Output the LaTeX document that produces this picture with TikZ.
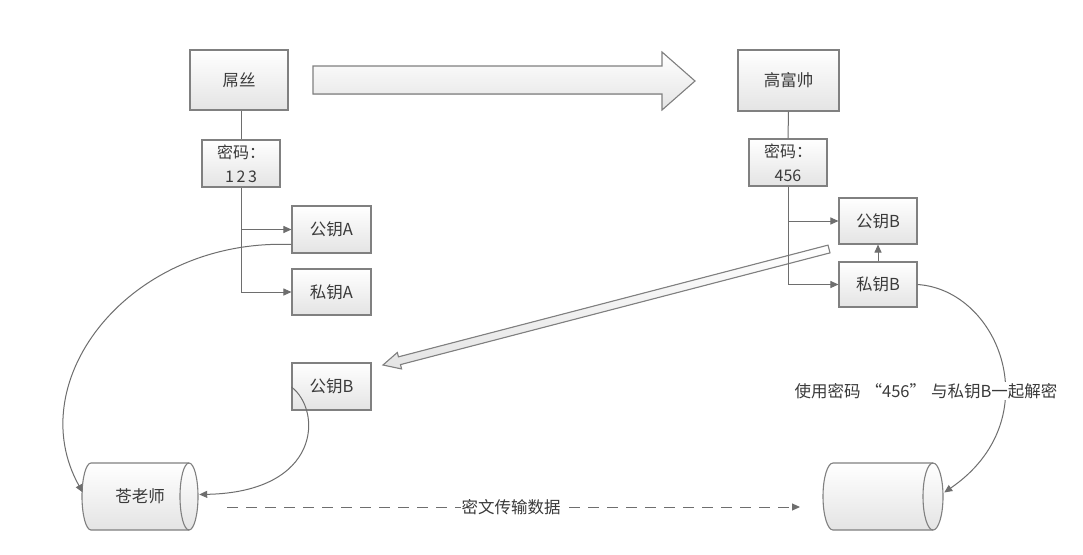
\documentclass[tikz,border=0pt]{standalone}
\usepackage{fontspec}
\setmainfont{Noto Sans CJK SC}
\usetikzlibrary{arrows.meta,shapes.geometric,calc}
\definecolor{edge}{HTML}{808080}
\definecolor{txt}{HTML}{3A3A3A}
\definecolor{fillbot}{HTML}{E4E4E4}
\definecolor{linec}{HTML}{6E6E6E}
\begin{document}
\begin{tikzpicture}[x=1pt,y=-1pt,
  every node/.style={text=txt,font=\fontsize{16.5pt}{20pt}\selectfont},
  box/.style={draw=edge,line width=1.1pt,top color=white,bottom color=fillbot,inner sep=0pt},
  pwbox/.style={box,align=center,font=\fontsize{16pt}{24pt}\selectfont},
  cylbody/.style={draw=edge,line width=1.1pt,top color=white,bottom color=fillbot},
  conn/.style={draw=linec,line width=1pt,-{Triangle[length=8pt,width=7pt]}},
  plain/.style={draw=linec,line width=1pt},
  fat/.style={draw=edge,line width=1.1pt,top color=white,bottom color=fillbot},
  lbl/.style={fill=white,inner sep=1pt}]
\useasboundingbox[fill=white] (0,0) rectangle (1083,554);

% top boxes
\node[box,minimum width=98pt,minimum height=60pt] (ds) at (239,80) {屌丝};
\node[box,minimum width=101pt,minimum height=61pt] (gfs) at (788.5,80.5) {高富帅};
\node[pwbox,minimum width=78pt,minimum height=47pt] (pw1) at (241,163.5) {密码：\\1\,2\,3};
\node[pwbox,minimum width=78pt,minimum height=47pt] (pw2) at (788,162.5) {密码：\\456};

% key boxes
\node[box,minimum width=79pt,minimum height=47pt] (pkA) at (331.5,229.5) {公钥A};
\node[box,minimum width=79pt,minimum height=46pt] (skA) at (331.5,292) {私钥A};
\node[box,minimum width=78pt,minimum height=46pt] (pkB) at (878,221) {公钥B};
\node[box,minimum width=78pt,minimum height=45pt] (skB) at (878,284.5) {私钥B};
\node[box,minimum width=79pt,minimum height=47pt] (pkB2) at (331.5,386.5) {公钥B};

% cylinders (drawn shapes)
\begin{scope}[y=1pt]
  \path[cylbody] (91,-463) -- (189,-463) arc[start angle=90,end angle=-90,x radius=9,y radius=33.5]
    -- (91,-530) arc[start angle=270,end angle=90,x radius=9,y radius=33.5] -- cycle;
  \draw[draw=edge,line width=1.1pt] (189,-463) arc[start angle=90,end angle=270,x radius=9,y radius=33.5];
  \path[cylbody] (833,-463) -- (933,-463) arc[start angle=90,end angle=-90,x radius=10,y radius=33.5]
    -- (833,-530) arc[start angle=270,end angle=90,x radius=10,y radius=33.5] -- cycle;
  \draw[draw=edge,line width=1.1pt] (933,-463) arc[start angle=90,end angle=270,x radius=10,y radius=33.5];
\end{scope}
\node[minimum width=116pt,minimum height=67pt,inner sep=0pt] (cls) at (140,496.5) {苍老师};
\node[minimum width=120pt,minimum height=67pt,inner sep=0pt] (cyr) at (883,496.5) {};

% big arrow right
\filldraw[fat] (313,66) -- (662,66) -- (662,52) -- (695,81) -- (662,110) -- (662,94) -- (313,94) -- cycle;

% diagonal hollow arrow
\coordinate (dA) at (829,249);
\coordinate (dB) at (383,365);
\coordinate (dH) at ($(dB)!17pt!(dA)$);
\filldraw[fat] ($(dA)!4pt!90:(dB)$) -- ($(dH)!4pt!-90:(dA)$) -- ($(dH)!8.5pt!-90:(dA)$) -- (dB)
  -- ($(dH)!8.5pt!90:(dA)$) -- ($(dH)!4pt!90:(dA)$) -- ($(dA)!4pt!-90:(dB)$) -- cycle;

% trees
\draw[plain] (ds.south -| pw1.north) -- (pw1.north);
\draw[conn] (pw1.south) |- (skA.west);
\draw[conn] (pw1.south |- pkA.west) -- (pkA.west);
\draw[plain] (gfs.south) -- (pw2.north);
\draw[conn] (pw2.south) |- (skB.west);
\draw[conn] (pw2.south |- pkB.west) -- (pkB.west);
\draw[conn] (skB.north) -- (pkB.south);

% curves
\coordinate (pkAs) at ($(pkA.west)+(0,15)$);
\draw[conn] (pkAs) .. controls (130,238) and (20,380) .. ($(cls.west)+(1,-4)$);
\coordinate (pkB2s) at ($(pkB2.west)+(0,0.5)$);
\draw[conn] (pkB2s) .. controls (322,410) and (322,492) .. ($(cls.east)+(1,-2)$);
\draw[conn] (skB.east) .. controls (1000,290) and (1050,420) .. ($(cyr.east)+(1,-4)$);
\node[lbl] (dec) at (926,391) {使用密码\hspace{5pt}“456”\hspace{5pt}与私钥B一起解密};

% dashed transfer
\coordinate (d1) at (227,507);
\coordinate (d2) at (800,507);
\draw[conn,dash pattern=on 11pt off 8pt] (d1) -- (d2);
\node[lbl] (tx) at (511,507) {密文传输数据};
\end{tikzpicture}
\end{document}
